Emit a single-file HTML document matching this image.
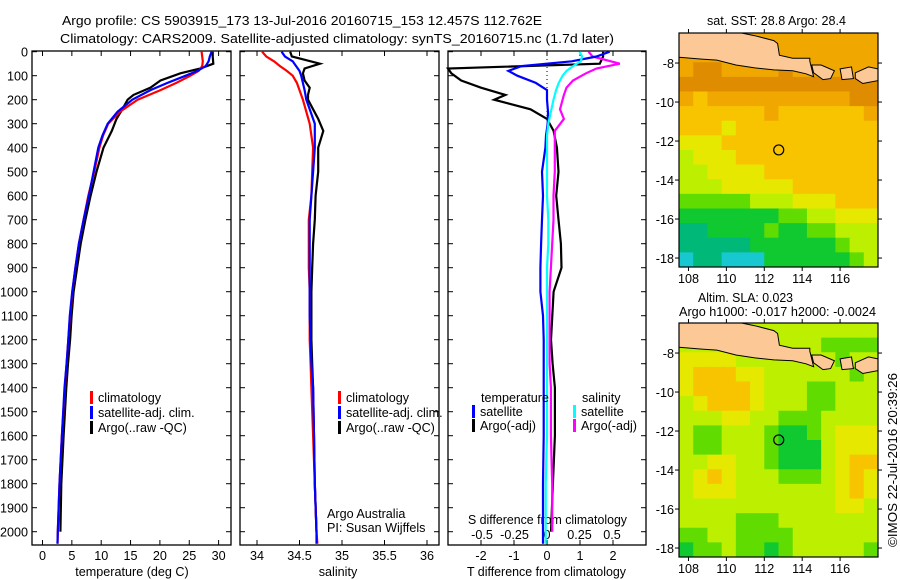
<!DOCTYPE html>
<html><head><meta charset="utf-8">
<style>
html,body{margin:0;padding:0;background:#fff;}
svg{display:block;font-family:"Liberation Sans",sans-serif;}
text{font-size:12.6px;fill:#000;}
</style></head>
<body>
<svg id="fig" width="900" height="580" viewBox="0 0 900 580" xmlns="http://www.w3.org/2000/svg">
<text x="62" y="25" textLength="480" lengthAdjust="spacingAndGlyphs">Argo profile: CS 5903915_173 13-Jul-2016 20160715_153 12.457S 112.762E</text>
<text x="60" y="43" textLength="554" lengthAdjust="spacingAndGlyphs">Climatology: CARS2009. Satellite-adjusted climatology: synTS_20160715.nc (1.7d later)</text>
<text x="707" y="25" textLength="139" lengthAdjust="spacingAndGlyphs">sat. SST: 28.8 Argo: 28.4</text>
<text x="698" y="302" textLength="95" lengthAdjust="spacingAndGlyphs">Altim. SLA: 0.023</text>
<text x="679" y="316" textLength="197" lengthAdjust="spacingAndGlyphs">Argo h1000: -0.017 h2000: -0.0024</text>
<text transform="translate(897,547) rotate(-90)" textLength="174" lengthAdjust="spacingAndGlyphs">©IMOS 22-Jul-2016 20:39:26</text>
</svg>
<script>
// ---------- data ----------
const depths = [0,20,40,60,80,100,130,160,200,250,300,350,400,500,600,700,800,900,1000,1100,1200,1300,1400,1600,1800,2000,2050];
const tempClim = [27.1,27.2,27.3,27.2,26.6,25.2,22.8,20.1,16.2,13.2,11.2,10.3,9.7,8.8,7.8,7.0,6.2,5.6,5.1,4.7,4.4,4.1,3.8,3.3,2.9,2.6,2.55];
const tempSat  = [28.8,28.5,28.3,27.8,26.4,24.4,21.3,18.4,15.3,12.8,11.1,10.2,9.5,8.7,7.9,7.0,6.2,5.6,5.06,4.65,4.4,4.1,3.75,3.3,2.9,2.6,2.55];
const argoDepths = [0,20,50,70,90,120,150,180,200,240,280,330,400,500,600,700,800,900,1000,1100,1200,1300,1400,1600,1800,2000];
const tempArgo = [29.0,29.0,29.1,26.9,23.5,20.1,18.4,15.5,14.5,13.6,12.6,11.8,10.4,9.2,8.2,7.3,6.5,5.9,5.3,4.95,4.7,4.35,4.05,3.6,3.2,3.05];
const salClim = [34.06,34.11,34.2,34.27,34.35,34.42,34.47,34.5,34.54,34.58,34.62,34.64,34.66,34.65,34.64,34.61,34.61,34.61,34.62,34.62,34.62,34.63,34.64,34.66,34.68,34.70,34.71];
const salSat  = [34.29,34.33,34.42,34.46,34.5,34.52,34.54,34.56,34.58,34.63,34.68,34.68,34.68,34.66,34.64,34.62,34.62,34.62,34.62,34.62,34.63,34.64,34.66,34.67,34.68,34.70,34.70];
const salArgo = [34.39,34.41,34.74,34.56,34.54,34.56,34.62,34.60,34.6,34.66,34.72,34.78,34.72,34.72,34.69,34.68,34.66,34.65,34.64,34.64,34.64,34.65,34.66,34.67,34.68,34.70];
const dTSat  = [1.9,1.5,0.75,-0.77,-1.17,-0.9,-0.34,0,0,0.03,0.02,-0.03,-0.05,-0.15,-0.12,-0.15,-0.18,-0.2,-0.2,-0.12,-0.1,-0.1,-0.1,-0.1,-0.12,-0.12,-0.12];
const dTArgo = [1.7,1.7,1.6,-3.0,-2.9,-2.6,-2.0,-1.26,-1.6,-0.5,0.0,0.2,0.3,0.35,0.28,0.35,0.42,0.44,0.2,0.16,0.12,0.17,0.24,0.24,0.18,0.12];
const dSSat  = [0.25,0.27,0.26,0.2,0.15,0.12,0.09,0.07,0.05,0.03,0.01,0.0,0.0,0.0,0.0,0.01,0.01,0.0,0.0,0.0,0.0,0.0,0.0,0.0,-0.01,-0.01,-0.01];
const dSArgo = [0.32,0.35,0.56,0.38,0.3,0.2,0.15,0.13,0.12,0.1,0.13,0.06,0.06,0.06,0.05,0.05,0.04,0.03,0.02,0.02,0.02,0.02,0.03,0.03,0.04,0.04];
const depthTicks = [0,100,200,300,400,500,600,700,800,900,1000,1100,1200,1300,1400,1500,1600,1700,1800,1900,2000];
const tempTicks = [0,5,10,15,20,25,30];
const salTicks = [34,34.5,35,35.5,36];
const dTTicks = [-2,-1,0,1,2];
const dSTicks = [-0.5,-0.25,0,0.25,0.5];
const dSTickLabels = ["-0.5","-0.25","0","0.25","0.5"];
// map grids (levels 0..8), rows top(-6.46) to bottom(-18.46), 14 cols 107.5..118
const sstRows = ["77777777777777","77777777777777","78877778777777","88888888888888","76777777777788","66666676666667","66656666666666","55566666666666","45556666666666","44555566666666","44455555666666","33333444555666","22222223344555","11222232233444","11111222222344","01100022222234"];
const slaRows = ["44444444444444","44444444443333","55554444444344","56665544444434","56666544433444","45666544433444","44455443334444","43344432234555","43344432224555","44554432224566","45654443334565","45554444444565","44444444444554","44443334444444","33443333444444","23343323444443"];
const levelColors = ["#18c8d0","#00b878","#10c830","#60dc00","#bcef00","#e6e800","#f8c400","#f0a800","#e08c00"];
const mapLonTicks = [108,110,112,114,116];
const mapLatTicks = [-8,-10,-12,-14,-16,-18];
const argoLon = 112.762, argoLat = -12.457;

// ---------- axes ----------
const NS="http://www.w3.org/2000/svg";
const svg=document.getElementById('fig');
function el(tag,attrs,parent){const e=document.createElementNS(NS,tag);for(const k in attrs)e.setAttribute(k,attrs[k]);(parent||svg).appendChild(e);return e;}
const yD = d => 51.7 + 0.24*d;
const xT = t => 42.5 + 5.87*t;
const xS = s => 257 + 85*(s-34);
const xdT = v => 547 + 33*v;
const xdS = v => 547 + 130*v;
const PB=545, PT=51;
const panels=[{l:32,r:231,n:'temperature-panel'},{l:240,r:439,n:'salinity-panel'},{l:448,r:646,n:'difference-panel'}];

panels.forEach((p,i)=>{
  const g=el('g',{});
  
  
  const r=el('rect',{x:p.l,y:PT,width:p.r-p.l,height:PB-PT,fill:'none',stroke:'#000','stroke-width':1.3},g);
  
  
  depthTicks.forEach(d=>{
    el('line',{x1:p.l,x2:p.l+5,y1:yD(d),y2:yD(d),stroke:'#000'},g);
    el('line',{x1:p.r-5,x2:p.r,y1:yD(d),y2:yD(d),stroke:'#000'},g);
  });
});
depthTicks.forEach(d=>{
  const t=el('text',{x:28,y:yD(d)+5,'text-anchor':'end'});
  t.textContent=String(d);
  
  
});
function xAxis(ticks,fx,labels,y,name){
  ticks.forEach((v,i)=>{
    const x=fx(v);
    el('line',{x1:x,x2:x,y1:PB-5,y2:PB,stroke:'#000'});
    el('line',{x1:x,x2:x,y1:PT,y2:PT+5,stroke:'#000'});
    const t=el('text',{x:x,y:y,'text-anchor':'middle'});
    t.textContent=labels?labels[i]:String(v);
    
    
  });
}
xAxis(tempTicks,xT,null,560,'temperature-tick-label');
xAxis(salTicks,xS,null,560,'salinity-tick-label');
xAxis(dTTicks,xdT,null,560,'t-difference-tick-label');
dSTicks.forEach((v,i)=>{
  const t=el('text',{x:xdS(v),y:539,'text-anchor':'middle'});
  t.textContent=dSTickLabels[i];
  
  
});
function label(x,y,txt,name,anchor,len){const a={x:x,y:y,'text-anchor':anchor||'start'};if(len){a.textLength=len;a.lengthAdjust='spacingAndGlyphs';}const t=el('text',a);t.textContent=txt;return t;}
label(132,576,'temperature (deg C)','temperature-axis-title','middle');
label(338,576,'salinity','salinity-axis-title','middle');
label(467,576,'T difference from climatology','t-difference-axis-title','start',159);
label(468,524,'S difference from climatology','s-difference-axis-title','start',159);
label(327,518,'Argo Australia','argo-australia-label');
label(327,532,'PI: Susan Wijffels','pi-label');
el('line',{x1:547,x2:547,y1:PT,y2:150,stroke:'#000','stroke-dasharray':'1,3'});

function series(xs,ds,fx,color,name){
  const pts=xs.map((v,i)=>fx(v).toFixed(1)+','+yD(ds[i]).toFixed(1)).join(' ');
  const pl=el('polyline',{points:pts,fill:'none',stroke:color,'stroke-width':2.2,'stroke-linejoin':'miter'});
  
  
}
series(tempArgo,argoDepths,xT,'#000','temperature-argo-line');
series(tempClim,depths,xT,'#f00','temperature-climatology-line');
series(tempSat,depths,xT,'#00f','temperature-satellite-line');
series(salArgo,argoDepths,xS,'#000','salinity-argo-line');
series(salClim,depths,xS,'#f00','salinity-climatology-line');
series(salSat,depths,xS,'#00f','salinity-satellite-line');
series(dTArgo,argoDepths,xdT,'#000','t-diff-argo-line');
series(dSArgo,argoDepths,xdS,'#f0f','s-diff-argo-line');
series(dTSat,depths,xdT,'#00f','t-diff-satellite-line');
series(dSSat,depths,xdS,'#0ff','s-diff-satellite-line');

function legendEntry(x,y,color,txt,name){
  el('rect',{x:x,y:y-11,width:3,height:13,fill:color});
  label(x+8,y,txt,name);
}
[[90,'temperature'],[338,'salinity']].forEach(([x,n])=>{
  legendEntry(x,402,'#f00','climatology',n+'-legend-climatology');
  legendEntry(x,417,'#00f','satellite-adj. clim.',n+'-legend-satellite');
  legendEntry(x,432,'#000','Argo(..raw -QC)',n+'-legend-argo');
});
label(481,402,'temperature','diff-legend-temperature-heading');
legendEntry(472,416,'#00f','satellite','diff-legend-t-satellite');
legendEntry(472,430,'#000','Argo(-adj)','diff-legend-t-argo');
label(582,402,'salinity','diff-legend-salinity-heading');
legendEntry(573,416,'#0ff','satellite','diff-legend-s-satellite');
legendEntry(573,430,'#f0f','Argo(-adj)','diff-legend-s-argo');

// ---------- maps ----------
const java=[[107.5,-7.7],[108.7,-7.8],[109.5,-7.85],[110.5,-8.1],[111.5,-8.25],[112.5,-8.35],[113.5,-8.4],[114.2,-8.55],[114.6,-8.7],[114.5,-8.3],[114.4,-7.9],[114.4,-7.75],[113.5,-7.75],[112.8,-7.6],[112.7,-7.0],[112.5,-6.85],[111.5,-6.6],[110.8,-6.46],[107.5,-6.46]];
const bali=[[114.5,-8.1],[115.0,-8.1],[115.7,-8.4],[115.5,-8.8],[115.1,-8.85],[114.6,-8.5]];
const lombok=[[116.0,-8.3],[116.6,-8.2],[116.7,-8.8],[116.1,-8.85]];
const sumbawa=[[116.8,-8.5],[117.5,-8.2],[118,-8.3],[118,-8.9],[117.2,-9.05],[116.8,-8.8]];
function drawMap(top,rows,name){
  const L=679,R=878,T=top,B=top+234;
  const xL=lon=>L+(lon-107.5)*(R-L)/10.5;
  const yL=lat=>T+(-6.46-lat)*(B-T)/12;
  const g=el('g',{});
  
  
  const nr=rows.length,nc=rows[0].length,cw=(R-L)/nc,ch=(B-T)/nr;
  rows.forEach((row,r)=>{for(let c=0;c<nc;c++){
    const cell=el('rect',{x:L+c*cw,y:T+r*ch,width:cw+0.5,height:ch+0.5,fill:levelColors[+row[c]]},g);
    
    
  }});
  [java,bali,lombok,sumbawa].forEach(poly=>{
    const p=el('polygon',{points:poly.map(q=>xL(q[0]).toFixed(1)+','+yL(q[1]).toFixed(1)).join(' '),fill:'#fcc896',stroke:'#000','stroke-width':1},g);
    
    
  });
  el('rect',{x:L,y:T,width:R-L,height:B-T,fill:'none',stroke:'#000','stroke-width':1.2},g);
  const c=el('circle',{cx:xL(argoLon),cy:yL(argoLat),r:5,fill:'none',stroke:'#000','stroke-width':1.2},g);
  
  
  mapLonTicks.forEach(v=>{
    el('line',{x1:xL(v),x2:xL(v),y1:B,y2:B+4,stroke:'#000'},g);
    el('line',{x1:xL(v),x2:xL(v),y1:T-4,y2:T,stroke:'#000'},g);
    const t=el('text',{x:xL(v),y:B+16,'text-anchor':'middle'},g);t.textContent=String(v);
    
    
  });
  mapLatTicks.forEach(v=>{
    el('line',{x1:L-4,x2:L,y1:yL(v),y2:yL(v),stroke:'#000'},g);
    el('line',{x1:R,x2:R+4,y1:yL(v),y2:yL(v),stroke:'#000'},g);
    const t=el('text',{x:L-5,y:yL(v)+5,'text-anchor':'end'},g);t.textContent=String(v);
    
    
  });
}
drawMap(33,sstRows,'sst-map');
drawMap(323,slaRows,'sla-map');
</script>
</body></html>
